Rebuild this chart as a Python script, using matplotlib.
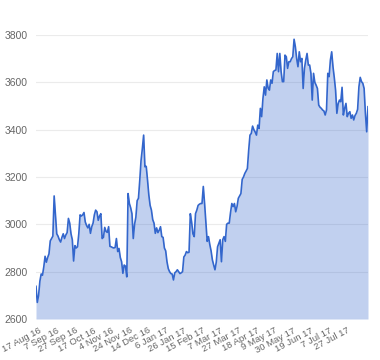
import matplotlib
matplotlib.use("Agg")
import matplotlib.pyplot as plt
import numpy as np

plt.rcParams["font.family"] = ["Liberation Sans", "DejaVu Sans"]

# daily closing values, one per trading day from 17 Aug 16
prices = [
    2738, 2670, 2700, 2760, 2790, 2785, 2820, 2865, 2840, 2860,
    2875, 2930, 2940, 2950, 3120, 3040, 2960, 2950, 2935, 2925,
    2945, 2960, 2940, 2955, 2965, 3025, 3005, 2960, 2935, 2845,
    2910, 2900, 2905, 2960, 3040, 3035, 3040, 3050, 3010, 2995,
    2985, 3000, 2962, 2990, 3005, 3040, 3060, 3053, 3017, 3035,
    3045, 2940, 2945, 2987, 2970, 2966, 2990, 2907, 2905, 2902,
    2900, 2902, 2940, 2885, 2898, 2860, 2842, 2793, 2828, 2823,
    2778, 3130, 3088, 3070, 3045, 2940, 3000, 3030, 3100, 3110,
    3185, 3270, 3320, 3377, 3243, 3245, 3187, 3124, 3080, 3060,
    3020, 3005, 2962, 2985, 2965, 2975, 2990, 2948, 2945, 2900,
    2888, 2842, 2813, 2800, 2792, 2790, 2765, 2795, 2800, 2808,
    2800, 2792, 2795, 2800, 2862, 2870, 2885, 2880, 2882, 3045,
    3010, 2960, 2948, 3045, 3060, 3080, 3085, 3088, 3088, 3160,
    3088, 3005, 2928, 2948, 2915, 2888, 2850, 2828, 2808, 2840,
    2905, 2920, 2935, 2842, 2935, 2948, 2928, 3000, 3005, 3005,
    3050, 3088, 3075, 3088, 3053, 3075, 3110, 3120, 3130, 3190,
    3200, 3215, 3225, 3236, 3313, 3377, 3384, 3415, 3400, 3390,
    3377, 3419, 3405, 3490, 3455, 3532, 3581, 3546, 3610, 3575,
    3567, 3610, 3596, 3645, 3650, 3652, 3722, 3645, 3722, 3645,
    3603, 3603, 3715, 3708, 3659, 3687, 3687, 3700, 3708, 3782,
    3750, 3700, 3666, 3729, 3687, 3701, 3574, 3659, 3694, 3722,
    3673, 3673, 3638, 3525, 3638, 3600, 3588, 3574, 3504, 3495,
    3490, 3483, 3479, 3462, 3483, 3638, 3624, 3694, 3729, 3666,
    3620, 3567, 3469, 3510, 3525, 3518, 3579, 3462, 3490, 3511,
    3455, 3469, 3476, 3448, 3462, 3441, 3460, 3469, 3486, 3581,
    3621, 3603, 3596, 3574, 3469, 3391, 3497,
]

date_labels = [
    "17 Aug 16", "7 Sep 16", "27 Sep 16", "17 Oct 16", "4 Nov 16",
    "24 Nov 16", "14 Dec 16", "6 Jan 17", "26 Jan 17", "15 Feb 17",
    "7 Mar 17", "27 Mar 17", "18 Apr 17", "9 May 17", "30 May 17",
    "19 Jun 17", "7 Jul 17", "27 Jul 17",
]
label_step = 14

y_ticks = [2600, 2800, 3000, 3200, 3400, 3600, 3800]

x = np.arange(len(prices))

fig = plt.figure(figsize=(3.8, 3.6), dpi=100)
ax = fig.add_axes([36 / 380, 41 / 360, 332 / 380, 284 / 360])

ax.fill_between(x, prices, y_ticks[0], color="#3366cc", alpha=0.3, linewidth=0, zorder=2)
ax.plot(x, prices, color="#3366cc", linewidth=1.2, zorder=3)

ax.set_xlim(0, len(prices) - 1)
ax.set_ylim(y_ticks[0], y_ticks[-1])

ax.set_yticks(y_ticks)
ax.set_yticklabels([str(v) for v in y_ticks], fontsize=7.5, color="#666666")
ax.set_xticks(np.arange(len(date_labels)) * label_step + 2)
ax.set_xticklabels(date_labels, fontsize=6.8, color="#666666", rotation=28,
                   ha="right", rotation_mode="anchor")

ax.tick_params(axis="both", length=0)
ax.tick_params(axis="x", pad=5)
ax.tick_params(axis="y", pad=6)
ax.grid(axis="y", color="#ebebeb", linewidth=0.8, zorder=0)
ax.set_axisbelow(True)
for s in ax.spines.values():
    s.set_visible(False)

fig.savefig("out.png", dpi=100)
